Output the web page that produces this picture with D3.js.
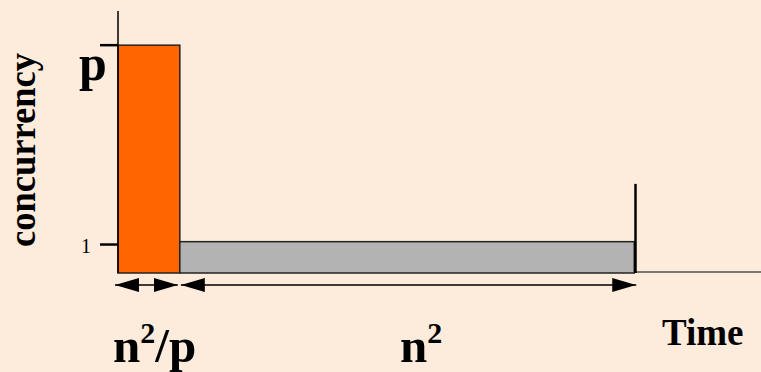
<!DOCTYPE html>
<html>
<head>
<meta charset="utf-8">
<script src="https://cdn.jsdelivr.net/npm/d3@7"></script>
<style>
  body { margin: 0; background: #fdecdb; }
  svg { display: block; }
  text { font-family: "Liberation Serif", "DejaVu Serif", serif; fill: #000; }
</style>
</head>
<body>
<div id="chart"></div>
<script>
// phases of the computation: time span and concurrency level
const phaseNames = ["parallel", "serial"];
const phaseStart = [0, 1];
const phaseEnd = [1, 8.35];
const phaseLevel = [8, 1.1];
const phaseColors = ["#ff6600", "#b3b3b3"];
const spanLabels = ["n<tspan dy='-19' font-size='30'>2</tspan><tspan dy='19'>/p</tspan>", "n<tspan dy='-19' font-size='30'>2</tspan>"];
const yTickValues = [1, 8];
const yTickLabels = ["1", "p"];
const endMarkTime = 8.37;
const endMarkTop = 3.13;

const width = 761, height = 372;

const svg = d3.select("#chart").append("svg")
    .attr("width", width)
    .attr("height", height);

svg.append("rect").attr("width", width).attr("height", height).attr("fill", "#fdecdb");

const x = d3.scaleLinear().domain([0, 10.4]).range([118, 761]);
const y = d3.scaleLinear().domain([0, 9.2]).range([273, 11]);

// arrow head
const defs = svg.append("defs");
["start", "end"].forEach(k => {
    defs.append("marker")
        .attr("id", "head-" + k)
        .attr("viewBox", "0 0 24 14")
        .attr("refX", k === "end" ? 24 : 0)
        .attr("refY", 7)
        .attr("markerWidth", 24)
        .attr("markerHeight", 14)
        .attr("markerUnits", "userSpaceOnUse")
        .attr("orient", "auto")
        .append("path")
        .attr("d", k === "end" ? "M0,0 L24,7 L0,14 Z" : "M24,0 L0,7 L24,14 Z")
        .attr("fill", "#000");
});

// bars
phaseNames.forEach((n, i) => {
    svg.append("rect")
        .attr("x", x(phaseStart[i]))
        .attr("y", y(phaseLevel[i]))
        .attr("width", x(phaseEnd[i]) - x(phaseStart[i]))
        .attr("height", y(0) - y(phaseLevel[i]))
        .attr("fill", phaseColors[i])
        .attr("stroke", "#222")
        .attr("stroke-width", 1.5);
});

// y axis
svg.append("line")
    .attr("x1", x(0)).attr("x2", x(0))
    .attr("y1", y(9.2)).attr("y2", y(0))
    .attr("stroke", "#000").attr("stroke-width", 1.5);

yTickValues.forEach((v, i) => {
    svg.append("line")
        .attr("x1", x(0) - 18).attr("x2", x(0))
        .attr("y1", y(v)).attr("y2", y(v))
        .attr("stroke", "#000").attr("stroke-width", 2.5);
});
svg.append("text")
    .attr("x", 91).attr("y", y(yTickValues[0]) + 8)
    .attr("text-anchor", "end")
    .attr("font-size", 20)
    .text(yTickLabels[0]);
svg.append("text")
    .attr("x", 79).attr("y", y(yTickValues[1]) + 35)
    .attr("font-size", 50)
    .attr("font-weight", "bold")
    .text(yTickLabels[1]);

svg.append("text")
    .attr("transform", "translate(35,150) rotate(-90)")
    .attr("text-anchor", "middle")
    .attr("font-size", 37)
    .attr("font-weight", "bold")
    .attr("textLength", 194)
    .attr("lengthAdjust", "spacingAndGlyphs")
    .text("concurrency");

// end marker and time axis
svg.append("line")
    .attr("x1", x(endMarkTime)).attr("x2", x(endMarkTime))
    .attr("y1", y(endMarkTop)).attr("y2", y(0))
    .attr("stroke", "#000").attr("stroke-width", 2.5);
svg.append("line")
    .attr("x1", x(endMarkTime)).attr("x2", width)
    .attr("y1", y(0) - 1).attr("y2", y(0) - 1)
    .attr("stroke", "#000").attr("stroke-width", 1.2);

// span arrows
phaseNames.forEach((n, i) => {
    svg.append("line")
        .attr("x1", x(phaseStart[i]) - (i === 0 ? 3 : -1))
        .attr("x2", x(phaseEnd[i]) + (i === 0 ? -2 : 2))
        .attr("y1", 285).attr("y2", 285)
        .attr("stroke", "#000").attr("stroke-width", 1.5)
        .attr("marker-start", "url(#head-start)")
        .attr("marker-end", "url(#head-end)");
});

// span labels
const labelX = [113, 400];
spanLabels.forEach((s, i) => {
    svg.append("text")
        .attr("x", labelX[i]).attr("y", 362)
        .attr("font-size", 49)
        .attr("font-weight", "bold")
        .html(s);
});

svg.append("text")
    .attr("x", 662).attr("y", 345)
    .attr("font-size", 37)
    .attr("font-weight", "bold")
    .text("Time");
</script>
</body>
</html>
